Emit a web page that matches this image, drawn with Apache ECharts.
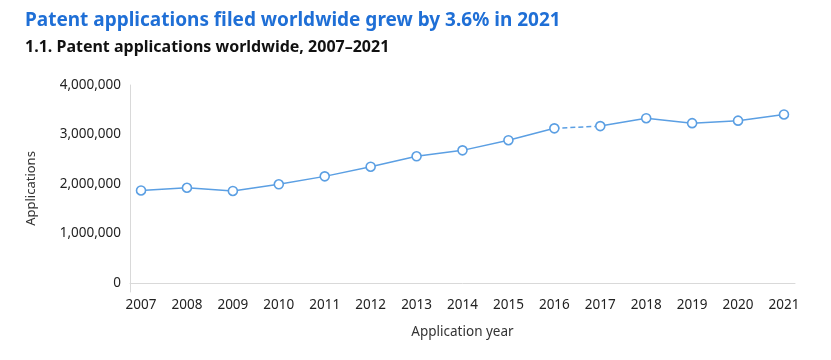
<!DOCTYPE html>
<html><head><meta charset="utf-8">
<script src="https://cdn.jsdelivr.net/npm/echarts@6/dist/echarts.min.js"></script>
<style>html,body{margin:0;padding:0;background:#fff}#c{width:831px;height:360px}</style>
</head><body><div id="c"></div>
<script>
const years = [2007,2008,2009,2010,2011,2012,2013,2014,2015,2016,2017,2018,2019,2020,2021];
const applications = [1870000,1925000,1860000,1995000,2155000,2350000,2560000,2680000,2885000,3125000,3170000,3330000,3230000,3280000,3405000];
const yTicks = [0,1000000,2000000,3000000,4000000];
const breakStart = 2016, breakEnd = 2017;

const pairs = years.map((y,i)=>[y, applications[i]]);
const before = pairs.filter(p=>p[0]<=breakStart);
const bridge = pairs.filter(p=>p[0]>=breakStart && p[0]<=breakEnd);
const after = pairs.filter(p=>p[0]>=breakEnd);

const lineColor = '#5b9fe3';
const font = '"Noto Sans", "Open Sans", sans-serif';
const chart = echarts.init(document.getElementById('c'));
const solid = (data)=>({
  type:'line', data, z:3,
  symbol:'circle', symbolSize:9,
  itemStyle:{color:'#fff', borderColor:lineColor, borderWidth:1.6},
  lineStyle:{color:lineColor, width:1.5},
  emphasis:{disabled:true}
});
chart.setOption({
  animation:false,
  textStyle:{fontFamily:font},
  title:[
    {text:'Patent applications filed worldwide grew by 3.6% in 2021', left:20, top:6,
     textStyle:{fontFamily:font, fontSize:19, fontWeight:'bold', color:'#1f6fd6'}},
    {text:'1.1. Patent applications worldwide, 2007–2021', left:20, top:34,
     textStyle:{fontFamily:font, fontSize:16, fontWeight:'bold', color:'#111'}}
  ],
  grid:{left:130, right:36, top:85, bottom:68},
  xAxis:{
    type:'value', min:2006.76, max:2021.24,
    name:'Application year', nameLocation:'middle', nameGap:33,
    nameTextStyle:{fontFamily:font, fontSize:13.5, color:'#333'},
    axisLine:{show:true, lineStyle:{color:'#d9d9d9'}},
    axisTick:{show:false},
    splitLine:{show:false},
    axisLabel:{customValues:years, formatter:v=>String(v), color:'#222', fontSize:13.5, fontFamily:font, margin:6}
  },
  yAxis:{
    type:'value', min:-180000, max:4000000,
    name:'Applications', nameLocation:'middle', nameGap:92,
    nameTextStyle:{fontFamily:font, fontSize:13, color:'#333'},
    axisLine:{show:true, lineStyle:{color:'#d9d9d9'}},
    axisTick:{show:false},
    splitLine:{show:false},
    axisLabel:{customValues:yTicks, formatter:v=>v.toLocaleString('en-US'), color:'#222', fontSize:13.5, fontFamily:font, margin:9}
  },
  series:[
    {type:'line', data:bridge, z:2, symbol:'none',
     lineStyle:{color:lineColor, width:1.5, type:[5,3]}, emphasis:{disabled:true}},
    solid(before),
    solid(after)
  ]
});
</script></body></html>
